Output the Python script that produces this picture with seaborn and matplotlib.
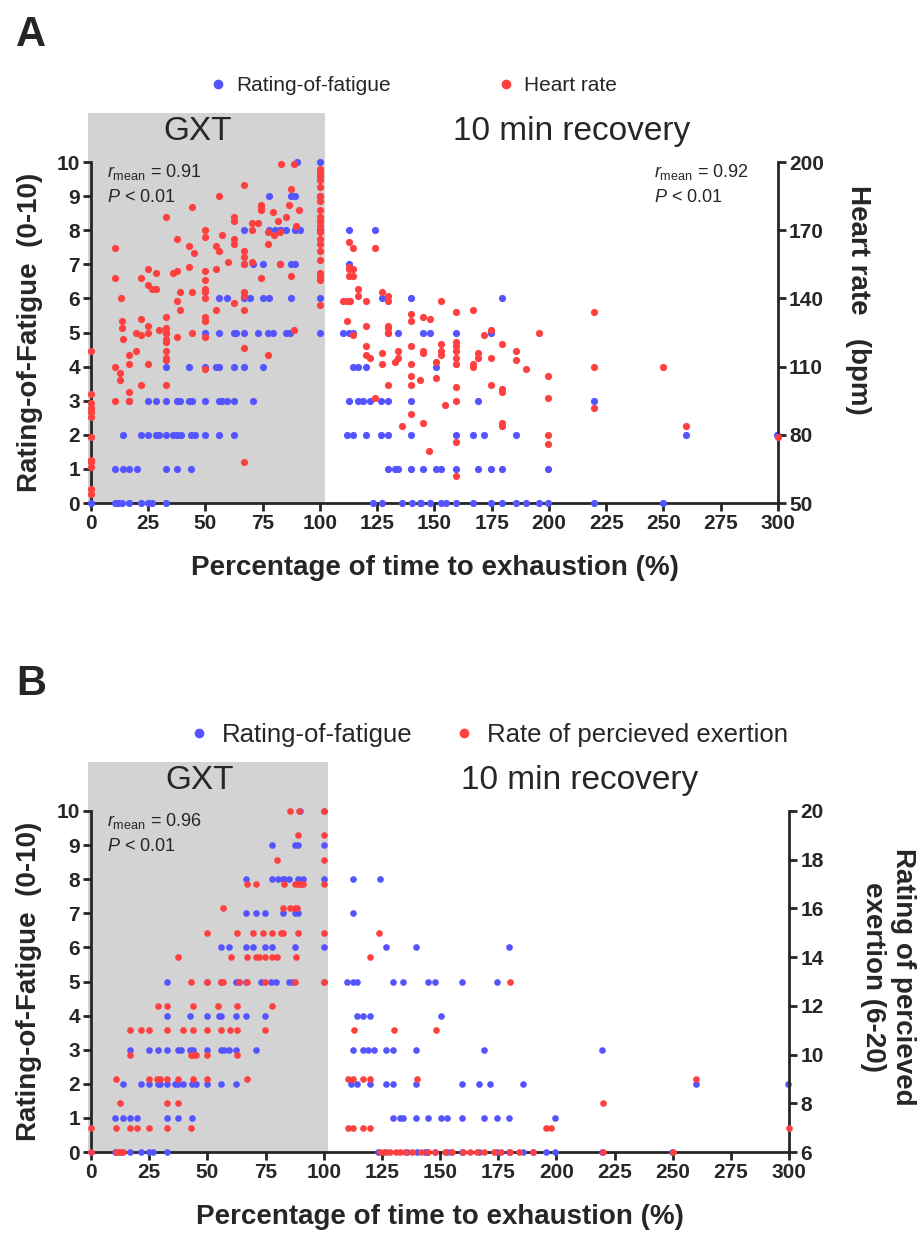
import matplotlib
matplotlib.use("Agg")
import matplotlib.pyplot as plt
import seaborn as sns
from matplotlib.lines import Line2D

# Rating-of-fatigue (0-10): time points (% of time to exhaustion) per rating
rof_at_0 = [0, 10.5, 12, 13.5, 16.7, 21.7, 25, 26.5, 32.7,
            123.3, 126.9, 135.6, 140, 143.6, 144.3, 148, 153, 154.9, 159.6,
            166.9, 174.6, 179.7, 185.8, 190.1, 195.6, 199.6, 219.6, 249.7]
rof_at_1 = [10.5, 13.8, 16.7, 19.9, 32.7, 37.6, 43.6,
            129.8, 132.7, 134.2, 139.7, 144.8, 150.6, 153, 159.6, 168.8,
            174.6, 179.7, 199.6]
rof_at_2 = [13.8, 21.7, 25, 28.6, 29.8, 32.7, 35.9, 37.6, 39.5, 43.6, 45.3,
            49.9, 56, 62.5,
            111.6, 114.5, 119.9, 126.6, 129.8, 139.7, 159.6, 166.9, 171.7,
            185.8, 259.9, 299.4]
rof_at_3 = [16.7, 25, 28.6, 32.7, 37.6, 38.8, 42.6, 43.9, 49.9, 56, 57, 59.2,
            62.5, 70.8,
            112.8, 116.7, 118.9, 121.8, 126.6, 129.8, 139.7, 168.8, 219.6]
rof_at_4 = [32.7, 42.6, 49.9, 54.8, 56, 62.5, 66.7, 74.9,
            114.5, 116.7, 119.9, 150.6]
rof_at_5 = [32.7, 49.9, 56, 62.5, 63.5, 66.7, 73, 77.3, 79.5, 85.3, 86.8, 100,
            110.2, 112.8, 114.5, 129.8, 133.9, 144.8, 148, 159.6, 174.6]
rof_at_6 = [56, 59.2, 66.7, 69.6, 74.9, 77.8, 87.5, 100, 126.9, 139.7, 179.7]
rof_at_7 = [66.7, 70.8, 74.9, 82.4, 87.5, 89, 112.8]
rof_at_8 = [66.7, 77.8, 80.2, 82.4, 83.1, 85.3, 89, 91.1, 100, 112.8, 124]
rof_at_9 = [77.8, 87.5, 89, 100]
rof_at_10 = [90, 100]
rof_levels = [rof_at_0, rof_at_1, rof_at_2, rof_at_3, rof_at_4, rof_at_5,
              rof_at_6, rof_at_7, rof_at_8, rof_at_9, rof_at_10]

# Heart rate (bpm), paired with time points
hr_time = ([0] * 12 + [10.5] * 4 + [12.6] * 2 + [12.9] + [13.4] * 2 + [13.8]
           + [16.7] * 4 + [19.6] * 2 + [21.7] * 4 + [25] * 5 + [26.5]
           + [28.6] * 2 + [29.8] + [32.7] * 10 + [35.6] + [37.6] * 4
           + [38.8] * 2 + [42.6] * 2 + [43.9] * 3 + [45] + [49.7] * 11
           + [54.8] * 3 + [56] * 2 + [57] + [59.9] + [62.5] * 5 + [66.7] * 9
           + [70.1] + [70.5] * 2 + [73] + [74.4] * 4 + [77.3] * 3 + [79.5]
           + [79.8] + [81.7] + [82.7] * 2 + [83.1] + [85.3] + [86.5]
           + [87.5] * 2 + [88.7] * 2 + [89.4] + [90.8] + [100] * 20
           + [110.2, 111.6, 111.9] + [112.8] * 4 + [113.1] + [114.5] * 4
           + [116.7] * 2 + [119.9] * 4 + [121.8] + [124] * 2 + [126.9] * 3
           + [129.8] * 6 + [132.7] + [133.9] * 2 + [135.6] + [139.7] * 7
           + [143.6] + [144.8] * 4 + [147.7, 148] + [150.6] * 2 + [152.8] * 4
           + [154.8] + [159.6] * 10 + [166.9] * 3 + [168.8] * 2 + [171.7]
           + [174.6] * 3 + [179.7] * 5 + [185.8] * 2 + [189.8, 195.6]
           + [199.6] * 4 + [219.6] * 3 + [249.7, 259.9, 299.9])
hr_bpm = ([117, 98, 94, 92, 90, 88, 79, 69, 68, 66, 56, 54]
          + [162, 149, 110, 95] + [107, 104] + [140] + [130, 127] + [122]
          + [115, 111, 99, 95] + [125, 117] + [149, 131, 124, 102]
          + [153, 146, 128, 125, 111] + [144] + [151, 144] + [126]
          + [176, 132, 127, 125, 122, 121, 117, 114, 113, 102] + [151]
          + [166, 152, 139, 123] + [143, 135] + [163, 154] + [180, 143, 125]
          + [160] + [170, 167, 152, 148, 144, 143, 140, 132, 130, 123, 109]
          + [163, 153, 135] + [185, 161] + [168] + [156]
          + [176, 174, 166, 164, 138]
          + [190, 161, 158, 155, 143, 141, 135, 118, 68]
          + [156] + [173, 170] + [173] + [181, 180, 179, 149] + [169, 164, 115]
          + [178] + [168] + [174] + [169, 155] + [199] + [176] + [181]
          + [188, 150] + [199, 126] + [172] + [179]
          + [197, 195, 194, 192, 189, 185, 183, 179, 176, 174, 172, 169, 166,
             164, 161, 157, 151, 150, 148, 137]
          + [139, 139, 130] + [165, 154, 153, 150] + [139]
          + [162, 153, 150, 124] + [144, 141] + [139, 128, 119, 115] + [114]
          + [162, 96] + [143, 116, 111] + [141, 139, 128, 127, 125, 102]
          + [112] + [117, 114] + [84] + [133, 130, 119, 111, 106, 102, 89]
          + [104] + [132, 117, 116, 85] + [73, 131] + [112, 105]
          + [139, 120, 117, 115] + [93]
          + [134, 121, 119, 117, 114, 111, 101, 95, 77, 62] + [135, 111, 110]
          + [116, 114] + [124] + [126, 114, 102] + [120, 100, 99, 85, 84]
          + [117, 113] + [109, 125] + [106, 96, 80, 76] + [134, 110, 92]
          + [110, 84, 79])

# Rating of perceived exertion (6-20): time points per rating
rpe_at_6 = [0, 10.7, 12.2, 13.6, 124, 126, 128.5, 131, 133, 135, 138, 142,
            145, 148, 152, 155, 160, 163, 166, 169, 173, 176, 180, 184, 190,
            220, 250]
rpe_at_7 = [0, 10.7, 16.8, 19.9, 24.9, 32.8, 42.8, 110.6, 112.8, 116.8,
            119.9, 195.6, 197.6, 300]
rpe_at_8 = [12.5, 32.8, 37.5, 220]
rpe_at_9 = [10.7, 24.9, 28.5, 29.7, 32.8, 37.5, 43.7, 49.7, 66.9, 110.6,
            112.8, 116.8, 119.9, 140, 260]
rpe_at_10 = [16.8, 42.8, 44, 45.1, 49.7, 62.9]
rpe_at_11 = [16.8, 21.5, 24.9, 32.8, 39.7, 43.7, 49.7, 55.7, 59.7, 62.9,
             74.8, 113, 130.2, 148.1]
rpe_at_12 = [28.9, 32.8, 43.7, 54.7, 62.9, 77.9]
rpe_at_13 = [42.8, 49.7, 55.7, 56.9, 63.8, 66.9, 74.8, 87.7, 100, 180.1]
rpe_at_14 = [37.5, 60, 66.9, 70.9, 72.3, 74.8, 77.7, 80.1, 88, 119.9]
rpe_at_15 = [49.7, 62.9, 69.5, 74.1, 77.7, 81.5, 82.7, 88.8, 100, 123.9]
rpe_at_16 = [56.9, 82.7, 85.5, 87.7, 88.4]
rpe_at_17 = [66.9, 70.9, 83, 87.7, 88.8, 89.8, 91.3, 100]
rpe_at_18 = [79.8, 100]
rpe_at_19 = [88.8, 100]
rpe_at_20 = [85.5, 89.5, 100]
rpe_levels = [rpe_at_6, rpe_at_7, rpe_at_8, rpe_at_9, rpe_at_10, rpe_at_11,
              rpe_at_12, rpe_at_13, rpe_at_14, rpe_at_15, rpe_at_16,
              rpe_at_17, rpe_at_18, rpe_at_19, rpe_at_20]

rof_time = [t for lvl in rof_levels for t in lvl]
rof_value = [i for i, lvl in enumerate(rof_levels) for t in lvl]
rpe_time = [t for lvl in rpe_levels for t in lvl]
rpe_value = [i + 6 for i, lvl in enumerate(rpe_levels) for t in lvl]

BLUE = "#5555FF"
RED = "#FF4040"
GREY = "#D3D3D3"

sns.set_style("ticks")
plt.rcParams["font.family"] = ["Liberation Sans", "DejaVu Sans"]
plt.rcParams["mathtext.fontset"] = "custom"
plt.rcParams["mathtext.rm"] = "Liberation Sans"
plt.rcParams["mathtext.it"] = "Liberation Sans:italic"

fig = plt.figure(figsize=(9.21, 12.39), dpi=100)
TOP = 10 * 390 / 341  # axis area reaches above the 0-10 scale


def draw_panel(rect, right_time, right_vals, right_base, right_step,
               right_ticks, right_label, right_label_xy, right_name,
               legend_xy, legend_size, colspacing, size, notes):
    ax = fig.add_axes(rect)
    ax.axvspan(-1.4, 102, color=GREY, lw=0, zorder=0, clip_on=False)
    sns.scatterplot(x=rof_time, y=rof_value, ax=ax, color=BLUE, s=size,
                    linewidth=0, clip_on=False, zorder=3)
    ax.set_xlim(0, 300)
    ax.set_ylim(0, TOP)

    tw = ax.twinx()
    sns.scatterplot(x=right_time, y=right_vals, ax=tw, color=RED, s=size,
                    linewidth=0, clip_on=False, zorder=3)
    tw.set_ylim(right_base, right_base + right_step * TOP)

    for a in (ax, tw):
        for sp in a.spines.values():
            sp.set_linewidth(2.0)
        a.tick_params(width=2.0, length=6, pad=2, direction="out")
    ax.spines["top"].set_visible(False)
    ax.spines["right"].set_visible(False)
    ax.spines["left"].set_bounds(0, 10)
    ax.spines["bottom"].set_bounds(0, 300)
    for side in ("top", "left", "bottom"):
        tw.spines[side].set_visible(False)
    tw.spines["right"].set_bounds(right_ticks[0], right_ticks[-1])

    xt = list(range(0, 301, 25))
    ax.set_xticks(xt, labels=[str(v) for v in xt], fontsize=15,
                  fontweight="bold")
    ax.set_yticks(range(11), labels=[str(v) for v in range(11)],
                  fontsize=15, fontweight="bold")
    tw.set_yticks(right_ticks, labels=[str(v) for v in right_ticks],
                  fontsize=15, fontweight="bold")

    ax.set_xlabel("Percentage of time to exhaustion (%)", fontsize=20,
                  fontweight="bold", va="center")
    ax.xaxis.set_label_coords(0.5, -0.167)
    ax.set_ylabel("Rating-of-Fatigue  (0-10)", fontsize=20,
                  fontweight="bold", va="center", ha="center")
    ax.yaxis.set_label_coords(-0.089, 0.438)
    tw.set_ylabel(right_label, fontsize=20, fontweight="bold", rotation=270,
                  va="center", ha="center", multialignment="center")
    tw.yaxis.set_label_coords(*right_label_xy)

    ax.text(46.5, 10.9, "GXT", fontsize=24, ha="center", va="center")
    ax.text(210, 10.9, "10 min recovery", fontsize=24, ha="center",
            va="center")
    for nx, ntxt in notes:
        ax.text(nx, 9.7, r"$\it{r}_{\rm mean}$" + " = " + ntxt, fontsize=13,
                ha="left", va="center")
        ax.text(nx, 8.95, r"$\it{P}$ < 0.01", fontsize=13, ha="left",
                va="center")

    handles = [Line2D([], [], marker="o", ls="", color=BLUE, markersize=6),
               Line2D([], [], marker="o", ls="", color=RED, markersize=6)]
    fig.legend(handles, ["Rating-of-fatigue", right_name], loc="center",
               bbox_to_anchor=legend_xy, ncol=2, frameon=False,
               fontsize=legend_size, handlelength=0.6, handletextpad=0.6,
               columnspacing=colspacing)
    return ax, tw


draw_panel([0.0988, 0.5940, 0.7459, 0.3148], hr_time, hr_bpm, 50, 15,
           [50, 80, 110, 140, 170, 200], "Heart rate   (bpm)", (1.116, 0.52),
           "Heart rate", (0.450, 0.9306), 15, 5.2, 27,
           [(7, "0.91"), (246, "0.92")])
draw_panel([0.0988, 0.0702, 0.7579, 0.3148], rpe_time, rpe_value, 6, 1.4,
           [6, 8, 10, 12, 14, 16, 18, 20],
           "Rating of percieved\nexertion (6-20)", (1.142, 0.45),
           "Rate of percieved exertion", (0.532, 0.4068), 18.5, 1.7, 23,
           [(7, "0.96")])

fig.text(0.0174, 0.9718, "A", fontsize=30, fontweight="bold", ha="left",
         va="center")
fig.text(0.0174, 0.448, "B", fontsize=30, fontweight="bold", ha="left",
         va="center")

fig.savefig("out.png", dpi=100)
